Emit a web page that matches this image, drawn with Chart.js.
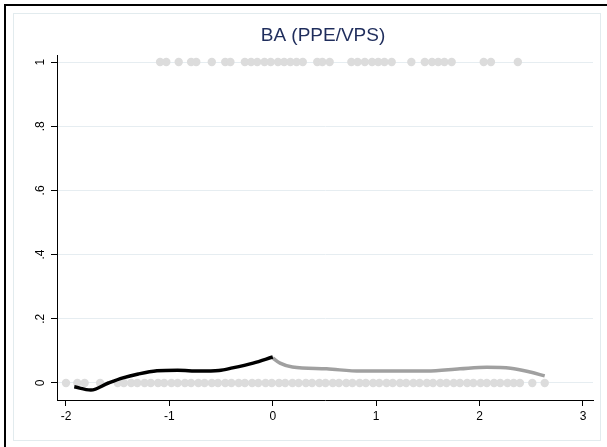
<!DOCTYPE html>
<html>
<head>
<meta charset="utf-8">
<script src="https://cdn.jsdelivr.net/npm/chart.js@4.4.1/dist/chart.umd.min.js"></script>
<style>
  html, body { margin: 0; padding: 0; background: #fff; }
  body { width: 607px; height: 447px; position: relative; overflow: hidden; }
  #frame { position: absolute; left: 4px; top: 4px; width: 620px; height: 460px;
           border-left: 2px solid #000; border-top: 2px solid #000; }
  #inner { position: absolute; left: 13px; top: 13px; width: 586px; height: 426px;
           border: 1px solid #e2ebee; }
  #wrap { position: absolute; left: 0; top: 0; width: 607px; height: 447px; }
</style>
</head>
<body>
<div id="frame"></div>
<div id="inner"></div>
<div id="wrap"><canvas id="baChart" width="607" height="447"></canvas></div>
<script>
// observations: x position of each case with outcome 1 / outcome 0
const onesX = [-1.09, -1.03, -0.91, -0.79, -0.74, -0.59, -0.46, -0.41, -0.27, -0.21,
    -0.15, -0.08, -0.02, 0.05, 0.11, 0.17, 0.23, 0.29, 0.43, 0.48, 0.55, 0.76, 0.82,
    0.89, 0.96, 1.02, 1.08, 1.15, 1.34, 1.47, 1.54, 1.60, 1.66, 1.73, 2.04, 2.11, 2.37];
const zerosX = [-2.00, -1.89, -1.82, -1.67, -1.50, -1.44, -1.37, -1.31, -1.24, -1.18,
    -1.11, -1.05, -0.98, -0.92, -0.85, -0.79, -0.72, -0.66, -0.59, -0.53, -0.46, -0.40,
    -0.33, -0.27, -0.20, -0.14, -0.07, -0.01, 0.06, 0.12, 0.19, 0.25, 0.32, 0.38, 0.45,
    0.51, 0.58, 0.64, 0.71, 0.77, 0.84, 0.90, 0.97, 1.03, 1.10, 1.16, 1.23, 1.29, 1.36,
    1.42, 1.49, 1.55, 1.62, 1.68, 1.75, 1.81, 1.88, 1.94, 2.01, 2.07, 2.14, 2.20, 2.27,
    2.33, 2.39, 2.51, 2.63];

// lowess fit, below and above the cutoff
const leftX = [-1.92, -1.76, -1.59, -1.45, -1.30, -1.12, -0.92, -0.71, -0.52, -0.39, -0.19, 0.0];
const leftY = [-0.012, -0.022, 0.0, 0.016, 0.028, 0.038, 0.040, 0.037, 0.039, 0.047, 0.062, 0.081];
const rightX = [0.0, 0.07, 0.19, 0.52, 0.85, 1.16, 1.49, 1.81, 2.07, 2.30, 2.49, 2.63];
const rightY = [0.078, 0.062, 0.050, 0.044, 0.037, 0.037, 0.037, 0.044, 0.049, 0.046, 0.034, 0.022];

const xTicks = [-2, -1, 0, 1, 2, 3];
const yTicks = [0, 0.2, 0.4, 0.6, 0.8, 1];
const yTickLabels = ['0', '.2', '.4', '.6', '.8', '1'];
const chartTitle = 'BA (PPE/VPS)';

const toPoints = (xs, ys) => xs.map((x, i) => ({ x: x, y: ys[i] }));

// title and rotated y labels, stata style
const stataText = {
    id: 'stataText',
    afterDraw(chart) {
        const ctx = chart.ctx;
        const area = chart.chartArea;
        const ys = chart.scales.y;
        ctx.save();
        ctx.fillStyle = '#1f2d5c';
        ctx.font = '19px "Liberation Sans", Arial, sans-serif';
        ctx.textAlign = 'center';
        ctx.textBaseline = 'middle';
        ctx.fillText(chartTitle, (area.left + area.right) / 2 - 2, 36);

        ctx.fillStyle = '#000';
        ctx.font = '12px "Liberation Sans", Arial, sans-serif';
        yTicks.forEach((v, i) => {
            ctx.save();
            ctx.translate(area.left - 16, ys.getPixelForValue(v));
            ctx.rotate(-Math.PI / 2);
            ctx.fillText(yTickLabels[i], 0, 0);
            ctx.restore();
        });
        ctx.restore();
    }
};

new Chart('baChart', {
    type: 'scatter',
    data: {
        datasets: [
            {
                type: 'line',
                data: toPoints(leftX, leftY),
                borderColor: '#000',
                borderWidth: 3.5,
                pointRadius: 0,
                cubicInterpolationMode: 'monotone',
                fill: false
            },
            {
                type: 'line',
                data: toPoints(rightX, rightY),
                borderColor: '#a0a0a0',
                borderWidth: 3.5,
                pointRadius: 0,
                cubicInterpolationMode: 'monotone',
                fill: false
            },
            {
                data: onesX.map(x => ({ x: x, y: 1 })),
                backgroundColor: '#dcdcdc',
                borderWidth: 0,
                pointRadius: 4.2
            },
            {
                data: zerosX.map(x => ({ x: x, y: 0 })),
                backgroundColor: '#dcdcdc',
                borderWidth: 0,
                pointRadius: 4.2
            }
        ]
    },
    options: {
        responsive: false,
        animation: false,
        events: [],
        layout: { padding: { top: 55, right: 14, left: 0, bottom: 0 } },
        plugins: {
            legend: { display: false },
            tooltip: { enabled: false }
        },
        scales: {
            x: {
                type: 'linear',
                min: -2.087,
                max: 3.097,
                afterBuildTicks: s => { s.ticks = xTicks.map(v => ({ value: v })); },
                afterFit: s => { s.height = 47; },
                border: { color: '#000', width: 1 },
                grid: { drawOnChartArea: false, drawTicks: true, tickLength: 6, tickColor: '#000' },
                ticks: {
                    color: '#000',
                    padding: 3,
                    maxRotation: 0,
                    font: { family: '"Liberation Sans", Arial, sans-serif', size: 12 }
                }
            },
            y: {
                type: 'linear',
                min: -0.053,
                max: 1.022,
                afterBuildTicks: s => { s.ticks = yTicks.map(v => ({ value: v })); },
                afterFit: s => { s.width = 57; },
                border: { color: '#000', width: 1 },
                grid: { color: '#e6edf1', lineWidth: 1, drawTicks: true, tickLength: 6, tickColor: '#000' },
                ticks: { display: false }
            }
        }
    },
    plugins: [stataText]
});
</script>
</body>
</html>
